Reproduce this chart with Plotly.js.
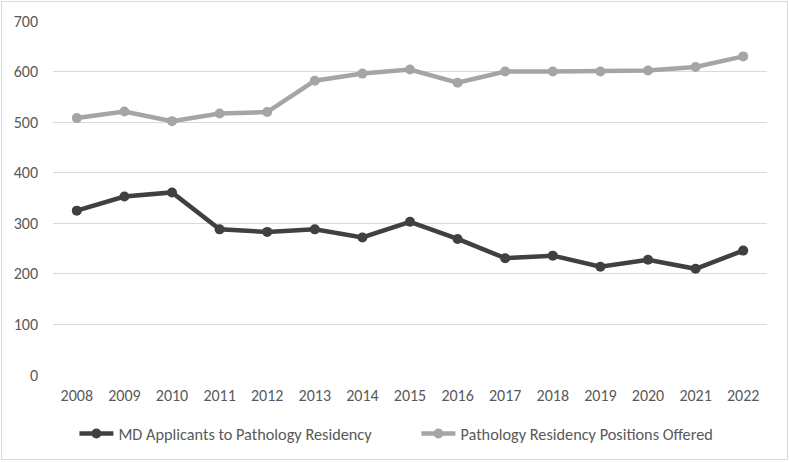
<!DOCTYPE html>
<html>
<head>
<meta charset="utf-8">
<script src="https://cdn.plot.ly/plotly-3.0.1.min.js"></script>
<style>
  html, body { margin: 0; padding: 0; background: #fff; }
  #wrap { position: relative; width: 789px; height: 462px; }
  #chart { position: absolute; left: 0; top: 0; width: 789px; height: 462px; }
  #frame { position: absolute; left: 1px; top: 1px; width: 785px; height: 457px; border: 1px solid #d9d9d9; pointer-events: none; }
</style>
</head>
<body>
<div id="wrap"><div id="chart"></div><div id="frame"></div></div>
<script>
const years = ["2008","2009","2010","2011","2012","2013","2014","2015","2016","2017","2018","2019","2020","2021","2022"];
const applicants = [325, 353, 361, 288, 283, 288, 272, 303, 269, 231, 236, 214, 228, 210, 246];
const positions = [508, 521, 502, 517, 520, 582, 596, 604, 578, 600, 600, 600, 602, 609, 630];
const seriesNames = ["MD Applicants to Pathology Residency", "Pathology Residency Positions Offered"];
const yTicks = [0, 100, 200, 300, 400, 500, 600, 700];

const fontFam = "Calibri, Carlito, 'Open Sans', sans-serif";
const data = [
  { x: years, y: applicants, name: seriesNames[0], type: "scatter", mode: "lines+markers",
    line: { color: "#404040", width: 4.5 }, marker: { color: "#404040", size: 10 } },
  { x: years, y: positions, name: seriesNames[1], type: "scatter", mode: "lines+markers",
    line: { color: "#a5a5a5", width: 4.5 }, marker: { color: "#a5a5a5", size: 10 } }
];
const layout = {
  width: 789, height: 462,
  margin: { l: 53, r: 22, t: 21, b: 86 },
  paper_bgcolor: "#ffffff", plot_bgcolor: "#ffffff",
  font: { family: fontFam, size: 16, color: "#595959" },
  xaxis: { type: "category", range: [-0.5, 14.5], showgrid: false, zeroline: false, showline: false, ticks: "",
           tickfont: { size: 16, color: "#595959" }, ticklabelstandoff: 9 },
  yaxis: { range: [0, 700], tickvals: yTicks, showgrid: true, gridcolor: "#d9d9d9", gridwidth: 1,
           zeroline: false, showline: false, ticks: "", tickfont: { size: 16, color: "#595959" },
           ticklabelstandoff: 14 },
  showlegend: true,
  legend: { orientation: "h", x: 0.03, xanchor: "left", y: -0.163, yanchor: "middle",
            font: { size: 16.3, color: "#595959" }, itemwidth: 34, entrywidth: 293, bgcolor: "rgba(0,0,0,0)" },
  hovermode: false
};
Plotly.newPlot("chart", data, layout, { displayModeBar: false, staticPlot: true });
</script>
</body>
</html>
